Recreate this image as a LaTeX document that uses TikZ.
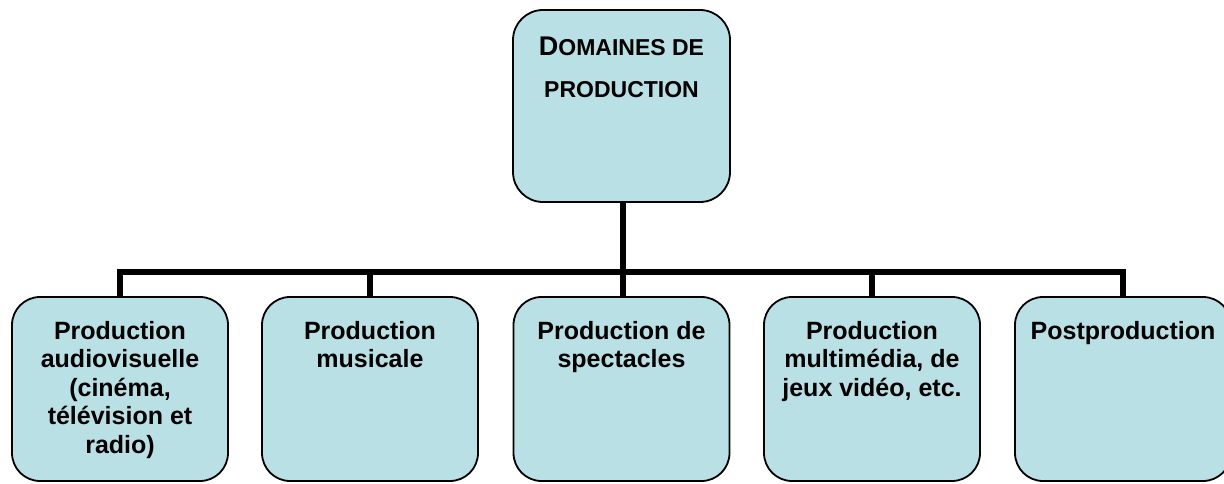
\documentclass[tikz,border=0pt]{standalone}
\usepackage{fontspec}
\setmainfont{Liberation Sans}
\usetikzlibrary{backgrounds}
\definecolor{boxblue}{RGB}{185,224,228}
\newcommand{\firstcap}[1]{{\fontsize{27}{30}\selectfont #1}}
\tikzset{
  boxshape/.style={draw=black, line width=1.8pt, fill=boxblue, rounded corners=28pt,
    minimum width=216pt, minimum height=184pt, inner sep=0pt},
  topshape/.style={boxshape, minimum width=217pt, minimum height=192pt, rounded corners=30pt},
  boxtext/.style={anchor=north, inner sep=0pt, align=center,
    font=\fontsize{25}{28.5}\selectfont\bfseries},
  toptext/.style={anchor=north, inner sep=0pt, align=center,
    font=\fontsize{23}{42}\selectfont\bfseries},
  conn/.style={draw=black, line width=6pt, line join=miter}
}
\begin{document}
\begin{tikzpicture}[x=1pt,y=-1pt]
\useasboundingbox (0,0) rectangle (1224,484);
\node[topshape] (top) at (621.5,106) {};
\node[boxshape] (b1) at (120,389) {};
\node[boxshape] (b2) at (370,389) {};
\node[boxshape] (b3) at (621.5,389) {};
\node[boxshape] (b4) at (872,389) {};
\node[boxshape] (b5) at (1123,389) {};
\coordinate (bus) at (622.5,272);
\begin{scope}[on background layer]
\draw[conn] ([xshift=1pt]top.south) -- ([xshift=1pt]top.south |- bus) -| (b1.north);
\draw[conn] ([xshift=1pt]top.south |- bus) -| (b5.north);
\draw[conn] (b2.north |- bus) -- (b2.north);
\draw[conn] (b4.north |- bus) -- (b4.north);
\draw[conn] ([xshift=1pt]top.south |- bus) -- ([xshift=1pt]b3.north);
\end{scope}
\node[toptext] (ttop) at (621.5,37) {\firstcap{D}OMAINES DE\\PRODUCTION};
\node[boxtext] (t1) at (120,321) {Production\\audiovisuelle\\(cinéma,\\télévision et\\radio)};
\node[boxtext] (t2) at (370,321) {Production\\musicale};
\node[boxtext] (t3) at (621.5,321) {Production de\\spectacles};
\node[boxtext] (t4) at (872,321) {Production\\multimédia, de\\jeux vidéo, etc.};
\node[boxtext] (t5) at (1123,321) {Postproduction};
\end{tikzpicture}
\end{document}
